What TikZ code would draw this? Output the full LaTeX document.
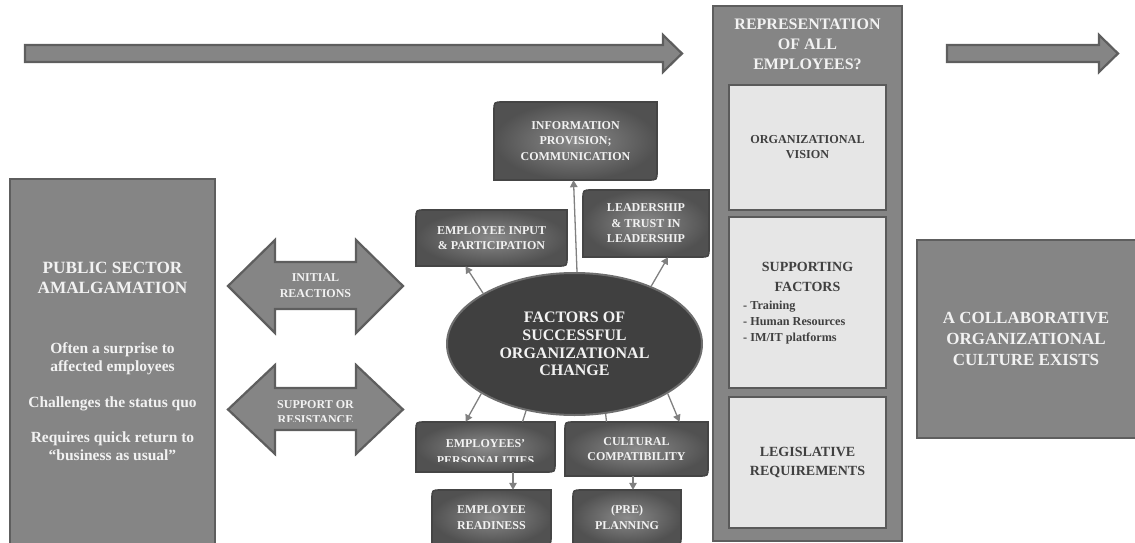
\documentclass[tikz,border=0pt]{standalone}
\usepackage{fontspec}
\setmainfont{Liberation Serif}
\usetikzlibrary{arrows.meta,calc,shapes.geometric}
\definecolor{fillg}{HTML}{858585}
\definecolor{lineg}{HTML}{5E5E5E}
\definecolor{boxin}{HTML}{8A8A8A}
\definecolor{boxout}{HTML}{515151}
\definecolor{boxline}{HTML}{454545}
\definecolor{ellf}{HTML}{404040}
\definecolor{elld}{HTML}{6E6E6E}
\definecolor{lightf}{HTML}{E6E6E6}
\definecolor{lightd}{HTML}{5A5A5A}
\definecolor{conng}{HTML}{808080}
\definecolor{txtw}{HTML}{F2F2F2}
\definecolor{txtd}{HTML}{404040}
\newcommand\dbox[4]{%
  \shadedraw[inner color=boxin, outer color=boxout, draw=boxline, line width=1.6pt]
    (#1,#4) -- (#1,{#2+9}) .. controls (#1,#2) .. ({#1+9},#2) -- (#3,#2)
    -- (#3,{#4-9}) .. controls (#3,#4) .. ({#3-9},#4) -- cycle;}
\tikzset{
  bigshape/.style={fill=fillg, draw=lineg, line width=2.2pt},
  lightbox/.style={rectangle, fill=lightf, draw=lightd, line width=2.2pt, inner sep=0pt,
     text=txtd, font=\bfseries\fontsize{12.2}{15}\selectfont, align=center},
  dtxt/.style={rectangle, inner sep=0pt, text=txtw, align=center,
     font=\bfseries\fontsize{12}{15.5}\selectfont},
  wtxt/.style={inner sep=0pt, text=txtw, align=center},
  conn/.style={draw=conng, line width=1.3pt, -{Triangle[length=7pt,width=7.5pt]}},
  connplain/.style={draw=conng, line width=1.3pt},
}
\begin{document}
\begin{tikzpicture}[x=1pt,y=-1pt]
\useasboundingbox (0,0) rectangle (1135,543);

% top arrows
\draw[bigshape, line join=miter] (25,45) -- (663,45) -- (663,35) -- (682,53.5) -- (663,72) -- (663,62) -- (25,62) -- cycle;
\draw[bigshape, line join=miter] (947,45) -- (1099,45) -- (1099,35) -- (1118,53.5) -- (1099,72) -- (1099,62) -- (947,62) -- cycle;

% left box
\node[rectangle, bigshape, minimum width=205, minimum height=372, inner sep=0pt] (pub) at (112.5,365) {};
\node[wtxt, font=\bfseries\fontsize{17.2}{20}\selectfont] (pubt) at (112.5,278) {PUBLIC SECTOR\\AMALGAMATION};
\node[wtxt, font=\bfseries\fontsize{15.5}{18}\selectfont] (pubb) at (112.5,402) {Often a surprise to\\affected employees\\[18pt]Challenges the status quo\\[17pt]Requires quick return to\\“business as usual”};

% double arrows
\draw[bigshape, line join=miter] (228,286) -- (275,240) -- (275,262) -- (356,262) -- (356,240) -- (403,286) -- (356,333) -- (356,309) -- (275,309) -- (275,333) -- cycle;
\node[wtxt, font=\bfseries\fontsize{12}{16}\selectfont] (init) at (315.5,286) {INITIAL\\REACTIONS};
\draw[bigshape, line join=miter] (228,409.5) -- (275,365) -- (275,388) -- (356,388) -- (356,365) -- (403,409.5) -- (356,454) -- (356,430) -- (275,430) -- (275,454) -- cycle;
\begin{scope}
\clip (270,390) rectangle (360,421.8);
\node[wtxt, font=\bfseries\fontsize{12}{15}\selectfont] (supp) at (315.5,412) {SUPPORT OR\\RESISTANCE};
\end{scope}

% central ellipse
\node[ellipse, fill=ellf, draw=elld, line width=2pt, minimum width=255, minimum height=142, inner sep=0pt,
  text=txtw, align=center, font=\bfseries\fontsize{16}{17.7}\selectfont] (ell) at (574.5,344)
  {FACTORS OF\\SUCCESSFUL\\ORGANIZATIONAL\\CHANGE};

% factor boxes
\dbox{494}{102}{657}{180}
\node[dtxt, minimum width=163, minimum height=78] (info) at (575.5,141) {INFORMATION\\PROVISION;\\COMMUNICATION};
\dbox{416}{210}{567}{266}
\node[dtxt, minimum width=151, minimum height=56] (inp) at (491.5,238) {EMPLOYEE INPUT\\\& PARTICIPATION};
\dbox{583}{190}{709}{257}
\node[dtxt, minimum width=126, minimum height=67] (lead) at (646,223.5) {LEADERSHIP\\\& TRUST IN\\LEADERSHIP};
\dbox{416}{422}{555}{472}
\node[rectangle, inner sep=0pt, minimum width=139, minimum height=50] (pers) at (485.5,447) {};
\begin{scope}
\clip (416,422) rectangle (555,461.8);
\node[dtxt, font=\bfseries\fontsize{12}{17}\selectfont] (perst) at (485.5,452) {EMPLOYEES’\\PERSONALITIES};
\end{scope}
\dbox{565}{422}{708}{476}
\node[dtxt, minimum width=143, minimum height=54] (cult) at (636.5,449) {CULTURAL\\COMPATIBILITY};
\dbox{432}{490}{551}{545}
\node[dtxt, minimum width=119, minimum height=55] (ready) at (491.5,517.5) {EMPLOYEE\\READINESS};
\dbox{573}{490}{681}{545}
\node[dtxt, minimum width=108, minimum height=55] (plan) at (627,517.5) {(PRE)\\PLANNING};

% connectors
\draw[conn] (ell.88) -- ($(info.south)+(-2,0)$);
\draw[conn] (ell.151) -- ($(inp.south)+(-26,0)$);
\draw[conn] (ell.37) -- ($(lead.south)+(22,0)$);
\draw[conn] (ell.208) -- ($(pers.north)+(-20,0)$);
\draw[connplain] (ell.234) -- ($(pers.north)+(37,0)$);
\draw[connplain] (ell.294) -- ($(cult.north)+(-30,0)$);
\draw[conn] (ell.332) -- ($(cult.north)+(43,0)$);
\draw[conn] ($(pers.south)+(27.5,0)$) -- ($(ready.north)+(21.5,0)$);
\draw[conn] ($(cult.south)+(-3.5,0)$) -- ($(plan.north)+(6,0)$);

% representation column
\node[rectangle, bigshape, minimum width=189, minimum height=535, inner sep=0pt] (rep) at (807.5,273.5) {};
\node[wtxt, font=\bfseries\fontsize{16}{20}\selectfont] (rept) at (807.5,44) {REPRESENTATION\\OF ALL\\EMPLOYEES?};
\node[lightbox, minimum width=157, minimum height=125] (vis) at (807.5,147.5) {ORGANIZATIONAL\\VISION};
\node[lightbox, minimum width=157, minimum height=171] (sup) at (807.5,302.5) {};
\node[inner sep=0pt, text=txtd, align=center, font=\bfseries\fontsize{14}{20}\selectfont] (supt) at (807.5,277) {SUPPORTING\\FACTORS};
\node[inner sep=0pt, text=txtd, align=left, anchor=west, font=\bfseries\fontsize{12.2}{16}\selectfont] (supl) at (743,323) {- Training\\- Human Resources\\- IM/IT platforms};
\node[lightbox, minimum width=157, minimum height=131, font=\bfseries\fontsize{14}{19}\selectfont] (leg) at (807.5,462.5) {LEGISLATIVE\\REQUIREMENTS};

% outcome box
\node[rectangle, bigshape, minimum width=225, minimum height=198, inner sep=0pt] (out) at (1029.5,339) {};
\node[wtxt, font=\bfseries\fontsize{17}{21}\selectfont] (outt) at (1026,339) {A COLLABORATIVE\\ORGANIZATIONAL\\CULTURE EXISTS};
\end{tikzpicture}
\end{document}
